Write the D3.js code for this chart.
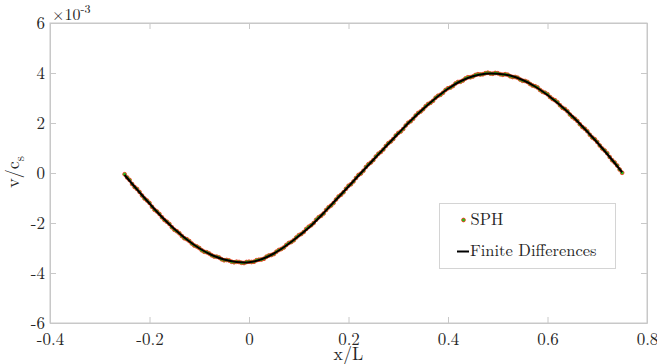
<!DOCTYPE html>
<html><head><meta charset="utf-8">
<script src="https://cdn.jsdelivr.net/npm/d3@7"></script>
<style>
html,body{margin:0;padding:0;background:#fff;}
svg{display:block;}
</style></head>
<body><svg id="c" width="657" height="364"></svg>
<script>
// ---- data (v/c_s in units of 1e-3) ----
const xTicks = [-0.4, -0.2, 0, 0.2, 0.4, 0.6, 0.8];
const xTickLabels = ["-0.4", "-0.2", "0", "0.2", "0.4", "0.6", "0.8"];
const yTicks = [-6, -4, -2, 0, 2, 4, 6];
const yTickLabels = ["-6", "-4", "-2", "0", "2", "4", "6"];

const fdX = [-0.25,-0.225,-0.2,-0.175,-0.15,-0.125,-0.1,-0.075,-0.05,-0.025,0,0.025,0.05,0.075,0.1,0.125,0.15,0.175,0.2,0.225,0.25,0.275,0.3,0.325,0.35,0.375,0.4,0.425,0.45,0.475,0.5,0.525,0.55,0.575,0.6,0.625,0.65,0.675,0.7,0.725,0.75];
const fdV = [-0.08,-0.66,-1.22,-1.76,-2.24,-2.66,-3.01,-3.28,-3.46,-3.56,-3.57,-3.45,-3.22,-2.9,-2.52,-2.1,-1.6,-1.07,-0.54,0.0,0.53,1.06,1.58,2.09,2.56,2.99,3.37,3.67,3.87,3.97,3.97,3.9,3.72,3.46,3.12,2.72,2.27,1.76,1.22,0.64,0.03];

const sphX = [-0.25,-0.24,-0.23,-0.22,-0.21,-0.2,-0.19,-0.18,-0.17,-0.16,-0.15,-0.14,-0.13,-0.12,-0.11,-0.1,-0.09,-0.08,-0.07,-0.06,-0.05,-0.04,-0.03,-0.02,-0.01,0,0.01,0.02,0.03,0.04,0.05,0.06,0.07,0.08,0.09,0.1,0.11,0.12,0.13,0.14,0.15,0.16,0.17,0.18,0.19,0.2,0.21,0.22,0.23,0.24,0.25,0.26,0.27,0.28,0.29,0.3,0.31,0.32,0.33,0.34,0.35,0.36,0.37,0.38,0.39,0.4,0.41,0.42,0.43,0.44,0.45,0.46,0.47,0.48,0.49,0.5,0.51,0.52,0.53,0.54,0.55,0.56,0.57,0.58,0.59,0.6,0.61,0.62,0.63,0.64,0.65,0.66,0.67,0.68,0.69,0.7,0.71,0.72,0.73,0.74,0.75];
const sphV = [-0.05,-0.28,-0.56,-0.76,-1.02,-1.2,-1.47,-1.64,-1.88,-2.04,-2.27,-2.41,-2.61,-2.72,-2.9,-3.0,-3.15,-3.22,-3.34,-3.38,-3.49,-3.5,-3.57,-3.56,-3.6,-3.55,-3.55,-3.47,-3.43,-3.3,-3.24,-3.08,-2.98,-2.8,-2.69,-2.49,-2.36,-2.15,-2.0,-1.77,-1.62,-1.37,-1.2,-0.94,-0.77,-0.51,-0.34,-0.08,0.09,0.35,0.52,0.77,0.94,1.19,1.36,1.6,1.76,2.01,2.17,2.4,2.55,2.76,2.89,3.09,3.21,3.39,3.48,3.64,3.7,3.83,3.86,3.95,3.95,4.01,3.97,3.99,3.93,3.93,3.84,3.81,3.69,3.64,3.5,3.42,3.25,3.15,2.96,2.83,2.61,2.47,2.24,2.08,1.84,1.67,1.42,1.24,0.98,0.79,0.51,0.3,0.01];

const sphX2 = [-0.245,-0.235,-0.225,-0.215,-0.205,-0.195,-0.185,-0.175,-0.165,-0.155,-0.145,-0.135,-0.125,-0.115,-0.105,-0.095,-0.085,-0.075,-0.065,-0.055,-0.045,-0.035,-0.025,-0.015,-0.005,0.005,0.015,0.025,0.035,0.045,0.055,0.065,0.075,0.085,0.095,0.105,0.115,0.125,0.135,0.145,0.155,0.165,0.175,0.185,0.195,0.205,0.215,0.225,0.235,0.245,0.255,0.265,0.275,0.285,0.295,0.305,0.315,0.325,0.335,0.345,0.355,0.365,0.375,0.385,0.395,0.405,0.415,0.425,0.435,0.445,0.455,0.465,0.475,0.485,0.495,0.505,0.515,0.525,0.535,0.545,0.555,0.565,0.575,0.585,0.595,0.605,0.615,0.625,0.635,0.645,0.655,0.665,0.675,0.685,0.695,0.705,0.715,0.725,0.735,0.745];
const sphV2 = [-0.18,-0.44,-0.64,-0.9,-1.1,-1.35,-1.54,-1.77,-1.95,-2.17,-2.33,-2.52,-2.65,-2.82,-2.94,-3.09,-3.17,-3.29,-3.35,-3.45,-3.48,-3.55,-3.55,-3.59,-3.56,-3.56,-3.49,-3.46,-3.35,-3.28,-3.15,-3.04,-2.88,-2.76,-2.58,-2.44,-2.24,-2.09,-1.87,-1.71,-1.48,-1.3,-1.06,-0.87,-0.63,-0.45,-0.2,-0.02,0.24,0.42,0.66,0.84,1.08,1.26,1.5,1.66,1.9,2.07,2.3,2.46,2.67,2.81,3.01,3.13,3.32,3.42,3.58,3.65,3.78,3.83,3.92,3.94,3.99,3.98,4.0,3.95,3.95,3.87,3.84,3.74,3.68,3.56,3.47,3.32,3.21,3.04,2.91,2.71,2.56,2.34,2.17,1.95,1.77,1.53,1.35,1.1,0.9,0.64,0.42,0.14];

const legendLabels = ["SPH", "Finite Differences"];

// ---- layout ----
const FONT = '"Latin Modern Roman","CMU Serif","Liberation Serif",serif';
const TXT = "#262626";
const svg = d3.select("#c");
const L = 50, R = 647, T = 23, B = 323;
const x = d3.scaleLinear().domain([-0.4, 0.8]).range([L, R]);
const y = d3.scaleLinear().domain([-6, 6]).range([B, T]);
const axisCol = "#c8c8c8";

svg.append("rect").attr("x", L).attr("y", T).attr("width", R - L).attr("height", B - T)
  .attr("fill", "#fff").attr("stroke", axisCol).attr("stroke-width", 1);

const fmtX = (d, i) => xTickLabels[i];
const fmtY = (d, i) => yTickLabels[i];
const gxB = svg.append("g").attr("transform", `translate(0,${B})`)
  .call(d3.axisBottom(x).tickValues(xTicks).tickFormat(fmtX).tickSizeInner(-6).tickSizeOuter(0).tickPadding(0));
const gxT = svg.append("g").attr("transform", `translate(0,${T})`)
  .call(d3.axisTop(x).tickValues(xTicks).tickFormat("").tickSizeInner(-6).tickSizeOuter(0));
const gyL = svg.append("g").attr("transform", `translate(${L},0)`)
  .call(d3.axisLeft(y).tickValues(yTicks).tickFormat(fmtY).tickSizeInner(-6).tickSizeOuter(0).tickPadding(0));
const gyR = svg.append("g").attr("transform", `translate(${R},0)`)
  .call(d3.axisRight(y).tickValues(yTicks).tickFormat("").tickSizeInner(-6).tickSizeOuter(0));
[gxB, gxT, gyL, gyR].forEach(g => {
  g.attr("font-family", FONT).attr("font-size", 17);
  g.select(".domain").attr("stroke", axisCol);
  g.selectAll(".tick line").attr("stroke", axisCol);
  g.selectAll(".tick text").attr("fill", TXT).attr("font-family", FONT).attr("font-size", 17);
});
gxB.selectAll(".tick text").attr("y", 22).attr("dy", 0);
gyL.selectAll(".tick text").attr("x", -5).attr("dy", "0.3em");

// exponent label
const ex = svg.append("text").attr("x", 52).attr("y", 20)
  .attr("font-family", FONT).attr("font-size", 16).attr("fill", TXT);
ex.append("tspan").text("\u00D710");
ex.append("tspan").attr("dy", -7.5).attr("font-size", 12).text("-3");

// axis labels
svg.append("text").attr("x", (L + R) / 2).attr("y", 359.5).attr("text-anchor", "middle")
  .attr("font-family", FONT).attr("font-size", 18).attr("fill", TXT).text("x/L");
const yl = svg.append("text").attr("transform", "translate(18.5,172) rotate(-90)")
  .attr("text-anchor", "middle").attr("font-family", FONT).attr("font-size", 18).attr("fill", TXT);
yl.append("tspan").text("v/c");
yl.append("tspan").attr("dy", 5).attr("font-size", 13).text("s");

// SPH particles
const g = svg.append("g");
const sphPts = sphX.map((d, i) => [d, sphV[i]]).concat(sphX2.map((d, i) => [d, sphV2[i]]));
g.selectAll("circle.sph").data(sphPts).enter().append("circle")
  .attr("class", "sph").attr("cx", d => x(d[0])).attr("cy", d => y(d[1])).attr("r", 1.9)
  .attr("fill", "#1ec81e").attr("stroke", "#ff2a1a").attr("stroke-width", 0.8);

// Finite differences line
const line = d3.line().x(d => x(d[0])).y(d => y(d[1])).curve(d3.curveCatmullRom.alpha(0.5));
g.append("path").datum(fdX.map((d, i) => [d, fdV[i]])).attr("d", line)
  .attr("fill", "none").attr("stroke", "#000").attr("stroke-width", 2);

// legend
const lg = svg.append("g");
lg.append("rect").attr("x", 439.5).attr("y", 203.5).attr("width", 176).attr("height", 65)
  .attr("fill", "#fff").attr("stroke", "#d4d4d4").attr("stroke-width", 1);
lg.append("circle").attr("cx", 463.5).attr("cy", 220).attr("r", 1.9)
  .attr("fill", "#1ec81e").attr("stroke", "#ff2a1a").attr("stroke-width", 0.8);
lg.append("text").attr("x", 470.5).attr("y", 225).attr("font-family", FONT).attr("font-size", 16.5)
  .attr("fill", TXT).text(legendLabels[0]);
lg.append("line").attr("x1", 457).attr("x2", 469).attr("y1", 251.5).attr("y2", 251.5)
  .attr("stroke", "#000").attr("stroke-width", 2);
lg.append("text").attr("x", 470).attr("y", 255.5).attr("font-family", FONT).attr("font-size", 16.5)
  .attr("fill", TXT).text(legendLabels[1]);
</script>
</body></html>
